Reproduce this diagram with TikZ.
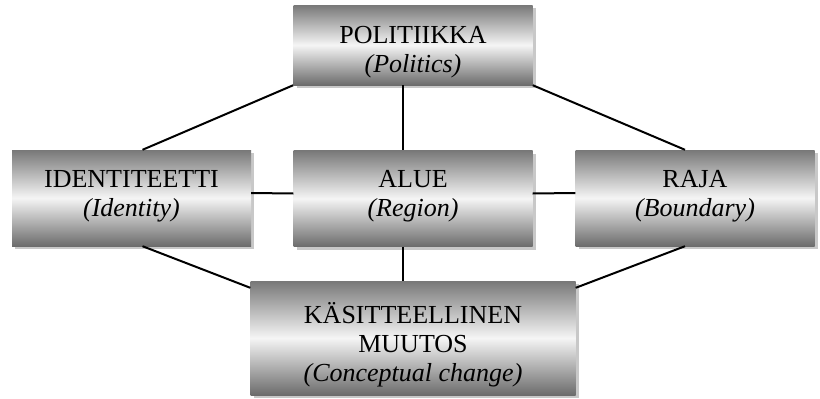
\documentclass[tikz,border=0pt]{standalone}
\usepackage{fontspec}
\setmainfont{Liberation Serif}
\usepackage{tikz}
\usetikzlibrary{positioning, calc, shadows}
\definecolor{bxDark}{RGB}{120, 120, 120}
\definecolor{bxLight}{RGB}{245, 245, 245}
\definecolor{bxShadow}{RGB}{200, 200, 200}
% text block moved up/down without changing the box size
\newcommand{\boxlines}[2]{\raisebox{#1}[\height][\depth]{\begin{tabular}{@{}c@{}}#2\end{tabular}}}
\tikzset{
    base/.style={
        font=\fontsize{26}{29}\selectfont,
        inner sep=0pt
    },
    concept/.style={
        base,
        rectangle,
        top color=bxDark,
        bottom color=bxDark!90!black,
        middle color=bxLight,
        minimum width=239pt,
        minimum height=96pt,
        drop shadow={shadow xshift=3pt, shadow yshift=-3pt, fill=bxShadow, opacity=1}
    },
    link/.style={
        line width=2pt,
        color=black
    }
}

\begin{document}
\begin{tikzpicture}[x=1pt, y=-1pt]
  \useasboundingbox (0,0) rectangle (820,399);

  % Boxes
  \node[concept, minimum height=80pt] (pol) at (413,45) {\boxlines{-7pt}{POLITIIKKA\\\textit{(Politics)}}};
  \node[concept] (ident) at (131.5,198) {\boxlines{2pt}{IDENTITEETTI\\\textit{(Identity)}}};
  \node[concept] (alue) at (413,198.5) {\boxlines{2pt}{ALUE\\\textit{(Region)}}};
  \node[concept] (raja) at (695,198) {\boxlines{2pt}{RAJA\\\textit{(Boundary)}}};
  \node[concept, minimum width=325pt, minimum height=114pt] (kas) at (413,338) {\boxlines{-8pt}{K\"ASITTEELLINEN\\MUUTOS\\\textit{(Conceptual change)}}};

  % Connections
  \draw[link] (pol.south west) -- ([xshift=11pt]ident.north);
  \draw[link] ([xshift=-10pt]pol.south) -- ([xshift=-10pt]alue.north);
  \draw[link] (pol.south east) -- ([xshift=-10pt]raja.north);
  \draw[link] ([yshift=5pt]ident.east) -- ([yshift=5pt]alue.west);
  \draw[link] ([yshift=5pt]alue.east) -- ([yshift=5pt]raja.west);
  \draw[link] ([xshift=11pt]ident.south) -- ([yshift=-7pt]kas.north west);
  \draw[link] ([xshift=-10pt]alue.south) -- ([xshift=-10pt]kas.north);
  \draw[link] ([xshift=-10pt]raja.south) -- ([yshift=-7pt]kas.north east);
\end{tikzpicture}
\end{document}
